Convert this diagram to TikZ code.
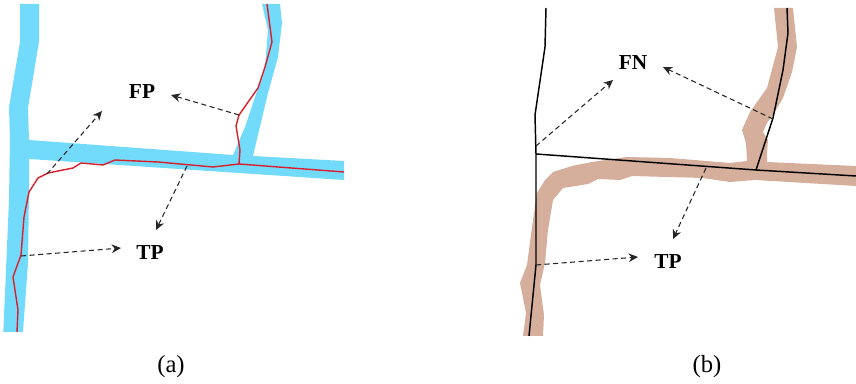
\documentclass[tikz,border=0pt]{standalone}
\usepackage{fontspec}
\setmainfont{Liberation Serif}
\usetikzlibrary{arrows.meta}
\definecolor{roadblue}{HTML}{72DBFB}
\definecolor{roadbrown}{HTML}{D5AE9C}
\definecolor{redline}{HTML}{D8202C}
\tikzset{
  roadA/.style={fill=roadblue,draw=none},
  roadB/.style={fill=roadbrown,draw=none},
  tracered/.style={draw=redline,line width=1.05pt,line join=round},
  traceblack/.style={draw=black,line width=1.1pt,line join=round},
  callout/.style={draw=black!85,line width=0.8pt,dash pattern=on 3.8pt off 2.6pt,-{Stealth[length=7pt,width=6.5pt]}},
  tag/.style={inner sep=0pt,font=\fontsize{16}{16}\selectfont\bfseries},
  caption/.style={inner sep=0pt,font=\fontsize{18.5}{18.5}\selectfont}
}
\begin{document}
\begin{tikzpicture}[x=0.75pt,y=-0.75pt]
\useasboundingbox (0,0) rectangle (856,384);
% ---------- panel (a)
\fill[roadA] (20,4) -- (20,42) -- (9,107) -- (10,140) -- (9,200) -- (3.3,332) -- (23,332) -- (28,263) -- (29,190) -- (29,159)
  -- (344,180) -- (344,161) -- (253,156) -- (268,93) -- (278,57) -- (282,23) -- (280,4) -- (262,4) -- (268,30) -- (265,67)
  -- (255,97) -- (245,127) -- (233,155) -- (29,140) -- (28,108) -- (39,42) -- (39,4) -- cycle;
\draw[tracered] (267,4) -- (272,42) -- (265,67) -- (258,88) -- (239,115) -- (236,126) -- (240,150) -- (239,164) -- (344,172);
\draw[tracered] (239,164) -- (213,167) -- (158,162) -- (115,160) -- (103,165) -- (81,163) -- (73,168) -- (48,173) -- (38,178)
  -- (29,192) -- (24,217) -- (21,255) -- (13,277) -- (18,310) -- (17,332);
\node[tag] (fp) at (142,92) {FP};
\node[tag] (tpa) at (150,253) {TP};
\node[caption] (capa) at (171,367) {(a)};
\coordinate (a1s) at (47,174);  \coordinate (a1e) at (102,111);
\coordinate (a2s) at (239,115); \coordinate (a2e) at (171,95);
\coordinate (a3s) at (187,166); \coordinate (a3e) at (156,230);
\coordinate (a4s) at (21,256);  \coordinate (a4e) at (121,248);
\draw[callout] (a1s) -- (a1e);
\draw[callout] (a2s) -- (a2e);
\draw[callout] (a3s) -- (a3e);
\draw[callout] (a4s) -- (a4e);
% ---------- panel (b)
\fill[roadB] (523,336) -- (526,313) -- (520,283) -- (527,265) -- (532,227) -- (537,193) -- (545,180) -- (553,172) -- (572,166) -- (592,162) -- (627,157)
  -- (670,158) -- (730,163) -- (747,161) -- (746,143) -- (742,130) -- (750,112) -- (767,88) -- (778,47) -- (774,8) -- (793,8)
  -- (797,47) -- (792,72) -- (783,98) -- (773,115) -- (767,123) -- (763,132) -- (768,140) -- (767,153) -- (767,162)
  -- (856,166) -- (856,186) -- (755,180) -- (730,182) -- (703,178) -- (632,176) -- (620,180) -- (598,179) -- (588,184)
  -- (563,188) -- (553,200) -- (548,230) -- (545,263) -- (540,285) -- (544,315) -- (543,336) -- cycle;
\draw[traceblack] (546,8) -- (545,47) -- (535,115) -- (536,154) -- (536,265) -- (529,336);
\draw[traceblack] (536,154) -- (756,170) -- (856,176);
\draw[traceblack] (756,170) -- (773,118) -- (783,70) -- (788,33) -- (787,8);
\node[tag] (fn) at (633,63) {FN};
\node[tag] (tpb) at (668,262) {TP};
\node[caption] (capb) at (707,367) {(b)};
\coordinate (b1s) at (536,146); \coordinate (b1e) at (613,80);
\coordinate (b2s) at (773,119); \coordinate (b2e) at (663,67);
\coordinate (b3s) at (706,168); \coordinate (b3e) at (673,239);
\coordinate (b4s) at (536,265); \coordinate (b4e) at (638,257);
\draw[callout] (b1s) -- (b1e);
\draw[callout] (b2s) -- (b2e);
\draw[callout] (b3s) -- (b3e);
\draw[callout] (b4s) -- (b4e);
\end{tikzpicture}
\end{document}
